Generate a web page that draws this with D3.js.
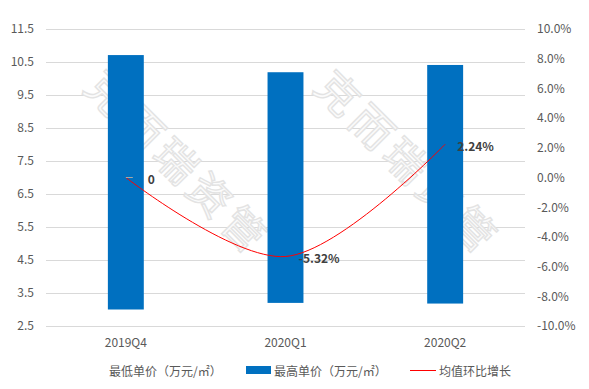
<!DOCTYPE html>
<html>
<head>
<meta charset="utf-8">
<script src="https://cdn.jsdelivr.net/npm/d3@7"></script>
<style>
  body { margin: 0; background: #fff; }
  text { font-family: "Noto Sans CJK SC", "Noto Sans", sans-serif; }
</style>
</head>
<body>
<div id="wrapper"></div>
<script>
// data
const quarters = ["2019Q4", "2020Q1", "2020Q2"]
const minPrice = [3.0, 3.2, 3.18]
const maxPrice = [10.71, 10.19, 10.41]
const growth = [0, -5.32, 2.24]
const growthLabels = ["0", "-5.32%", "2.24%"]
const leftTicks = [2.5, 3.5, 4.5, 5.5, 6.5, 7.5, 8.5, 9.5, 10.5, 11.5]
const rightTicks = [-10, -8, -6, -4, -2, 0, 2, 4, 6, 8, 10]
const legendNames = ["最低单价（万元/㎡）", "最高单价（万元/㎡）", "均值环比增长"]
const watermark = "克而瑞资管"

function drawChart() {
  const dimensions = {
    width: 589,
    height: 389,
    margin: { top: 29, right: 64, bottom: 63, left: 46 },
  }
  dimensions.boundedWidth = dimensions.width - dimensions.margin.left - dimensions.margin.right
  dimensions.boundedHeight = dimensions.height - dimensions.margin.top - dimensions.margin.bottom

  const svg = d3.select("#wrapper").append("svg")
      .attr("width", dimensions.width)
      .attr("height", dimensions.height)

  const bounds = svg.append("g")
      .attr("transform", `translate(${dimensions.margin.left},${dimensions.margin.top})`)

  // scales
  const xScale = d3.scaleBand()
    .domain(quarters)
    .range([0, dimensions.boundedWidth])
    .paddingInner(0.775)
    .paddingOuter(0.3875)

  const yScale = d3.scaleLinear()
    .domain([2.5, 11.5])
    .range([dimensions.boundedHeight, 0])

  const y2Scale = d3.scaleLinear()
    .domain([-10, 10])
    .range([dimensions.boundedHeight, 0])

  // gridlines
  bounds.append("g").selectAll("line")
    .data(leftTicks)
    .join("line")
      .attr("x1", 0)
      .attr("x2", dimensions.boundedWidth)
      .attr("y1", d => Math.round(yScale(d)) + 0.5)
      .attr("y2", d => Math.round(yScale(d)) + 0.5)
      .attr("stroke", "#d9d9d9")

  // watermark (behind bars)
  const wm = bounds.append("g")
  ;[[134, 132], [364, 132]].forEach(([cx, cy]) => {
    wm.append("text")
        .attr("transform", `translate(${cx},${cy}) rotate(45)`)
        .attr("text-anchor", "middle")
        .attr("dominant-baseline", "central")
        .style("font-size", "42px")
        .style("letter-spacing", "6px")
        .attr("fill", "#fbfbfb")
        .attr("stroke", "#e3e3e3")
        .attr("stroke-width", 1.4)
        .text(watermark)
  })

  // floating bars
  bounds.append("g").selectAll("rect")
    .data(quarters)
    .join("rect")
      .attr("x", d => xScale(d))
      .attr("width", xScale.bandwidth())
      .attr("y", (d, i) => yScale(maxPrice[i]))
      .attr("height", (d, i) => yScale(minPrice[i]) - yScale(maxPrice[i]))
      .attr("fill", "#0070c0")

  // growth line
  const lineGenerator = d3.line()
    .x((d, i) => xScale(quarters[i]) + xScale.bandwidth() / 2)
    .y(d => y2Scale(d))
    .curve(d3.curveCatmullRom.alpha(0.5))

  bounds.append("path")
      .datum(growth)
      .attr("d", lineGenerator)
      .attr("fill", "none")
      .attr("stroke", "#ff0000")
      .attr("stroke-width", 1)

  // small leader dash at the zero point
  bounds.append("line")
      .attr("x1", xScale(quarters[0]) + xScale.bandwidth() / 2)
      .attr("x2", xScale(quarters[0]) + xScale.bandwidth() / 2 + 7)
      .attr("y1", y2Scale(growth[0]))
      .attr("y2", y2Scale(growth[0]))
      .attr("stroke", "#a6a6a6")

  const labelOffset = [22, 13, 12]
  bounds.append("g").selectAll("text")
    .data(growthLabels)
    .join("text")
      .attr("x", (d, i) => xScale(quarters[i]) + xScale.bandwidth() / 2 + labelOffset[i])
      .attr("y", (d, i) => y2Scale(growth[i]) + 1)
      .attr("dominant-baseline", "central")
      .attr("fill", "#404040")
      .style("font-size", "12px")
      .style("font-weight", "bold")
      .text(d => d)

  // left axis
  const leftAxis = bounds.append("g")
    .call(d3.axisLeft(yScale).tickValues(leftTicks).tickFormat(d3.format(".1f")).tickSize(0).tickPadding(12))
  leftAxis.select(".domain").remove()
  leftAxis.selectAll("text")
      .attr("fill", "#595959")
      .style("font-size", "12px")
      .style("font-family", "'Noto Sans CJK SC', 'Noto Sans', sans-serif")

  // right axis
  const rightAxis = bounds.append("g")
      .attr("transform", `translate(${dimensions.boundedWidth},0)`)
    .call(d3.axisRight(y2Scale).tickValues(rightTicks).tickFormat(d => d.toFixed(1) + "%").tickSize(0).tickPadding(12))
  rightAxis.select(".domain").remove()
  rightAxis.selectAll("text")
      .attr("fill", "#595959")
      .style("font-size", "12px")
      .style("font-family", "'Noto Sans CJK SC', 'Noto Sans', sans-serif")

  // x axis
  const xAxis = bounds.append("g")
      .attr("transform", `translate(0,${dimensions.boundedHeight})`)
    .call(d3.axisBottom(xScale).tickSize(0).tickPadding(12))
  xAxis.select(".domain").remove()
  xAxis.selectAll("text")
      .attr("fill", "#595959")
      .style("font-size", "12px")
      .style("font-family", "'Noto Sans CJK SC', 'Noto Sans', sans-serif")

  // legend
  const legend = svg.append("g")
      .attr("transform", "translate(0,370)")
      .style("font-size", "12px")

  legend.append("text")
      .attr("x", 109)
      .attr("dominant-baseline", "central")
      .attr("fill", "#595959")
      .text(legendNames[0])

  legend.append("rect")
      .attr("x", 246)
      .attr("y", -4)
      .attr("width", 25)
      .attr("height", 8)
      .attr("fill", "#0070c0")
  legend.append("text")
      .attr("x", 274)
      .attr("dominant-baseline", "central")
      .attr("fill", "#595959")
      .text(legendNames[1])

  legend.append("line")
      .attr("x1", 410)
      .attr("x2", 436)
      .attr("y1", 0.5)
      .attr("y2", 0.5)
      .attr("stroke", "#ff0000")
  legend.append("text")
      .attr("x", 439)
      .attr("dominant-baseline", "central")
      .attr("fill", "#595959")
      .text(legendNames[2])
}
drawChart()
</script>
</body>
</html>
